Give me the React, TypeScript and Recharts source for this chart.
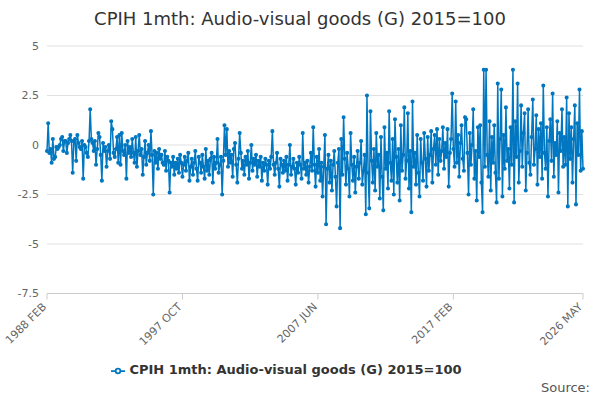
import React from 'react';
import { LineChart, Line, XAxis, YAxis, CartesianGrid, Legend } from 'recharts';

const MONTHS = ['JAN', 'FEB', 'MAR', 'APR', 'MAY', 'JUN', 'JUL', 'AUG', 'SEP', 'OCT', 'NOV', 'DEC'];

// monthly values, 1988 FEB .. 2026 MAY
const values: number[] = [
  -0.3, 1.1, -0.4, -0.2, -0.9, 0.3, -0.7, -0.6, -0.1, -0.2, -0.1,
  0.0, 0.3, 0.4, -0.3, 0.2, 0.2, -0.4, 0.1, 0.3, 0.5, 0.2, -1.4,
  0.2, 0.3, -0.8, 0.5, 0.1, -0.1, -0.2, 0.2, -1.7, 0.0, -0.1, -0.4,
  -0.6, 0.2, 1.8, 0.3, 0.1, -0.3, 0.2, -1.0, -0.2, 0.6, 0.4, -0.5,
  -1.8, 0.1, -0.3, -0.1, -1.1, -0.3, 0.0, -0.7, 1.2, 0.8, -0.4, -0.6,
  -0.2, 0.4, -0.9, 0.5, -1.0, 0.6, -0.3, -0.5, 0.0, -1.7, 0.2, -0.4,
  -0.1, -0.6, 0.3, -0.4, -0.9, 0.4, -1.1, -0.3, 0.5, -0.5, -0.2, -1.5,
  -0.6, 0.2, -1.0, -0.4, 0.0, -0.8, 0.7, -0.5, -2.5, -0.3, -0.9, -0.4,
  -1.2, -0.2, -0.7, -0.5, -0.9, -1.0, -0.3, -1.3, -0.6, -0.8, -2.4, -0.9,
  -1.1, -0.6, -1.5, -0.9, -1.2, -0.7, -1.4, -0.5, -0.9, -1.6, -1.0, -0.6,
  -1.3, -0.8, -0.4, -1.8, -1.1, -0.7, -1.5, -0.9, -0.3, -1.2, -1.8, -0.6,
  -0.9, -1.4, -0.5, -1.1, -1.7, -0.2, -1.3, -0.8, -1.5, -0.7, -0.4, -1.9,
  -0.6, -1.2, -0.9, 0.3, -1.4, -1.0, -0.6, -2.5, -0.8, 1.0, -0.5, 0.8,
  -1.1, -0.3, -0.9, -0.5, -1.6, -0.2, 0.1, -1.0, -1.9, -0.7, 0.6, -0.4,
  -1.2, -0.8, -1.5, -0.6, -1.0, -0.3, -1.7, -0.9, 0.0, -1.3, -0.7, -1.0,
  -0.5, -1.6, -0.8, -1.1, -0.6, -1.8, -0.9, -1.3, -0.7, -1.0, -2.0, -0.8,
  -1.2, -0.6, 0.7, -1.0, -1.5, -0.9, -0.4, -1.2, -2.1, -0.7, -1.0, -1.4,
  -0.8, -1.3, -0.6, -1.8, -1.0, 0.0, -1.5, -1.1, -0.7, -1.2, -2.0, -0.9,
  -1.4, -0.6, -1.0, -1.7, 0.6, -1.2, -0.9, -1.5, -0.8, -1.9, -1.1, -0.4,
  -1.3, 0.9, -1.0, -2.1, -0.6, -1.4, -0.2, -1.8, -0.9, -2.6, -1.1, 0.5,
  -4.0, -1.2, -0.5, -1.9, -0.8, -2.3, -1.0, -0.3, -1.6, -3.1, -0.9, -0.2,
  -4.2, 0.3, -1.5, 1.4, -0.7, -2.0, -0.4, -1.2, -2.6, 0.6, -1.0, -1.8,
  -0.6, -2.4, -1.1, -0.3, -1.7, -0.9, 0.2, -2.0, -1.3, -0.5, -3.5, 2.5,
  -1.4, -3.2, 1.7, -0.8, -1.9, -0.2, -2.3, 0.6, -1.1, -0.5, -2.7, 0.4,
  -1.6, -3.3, 0.9, -1.2, -0.4, -2.2, 1.7, -0.9, -1.8, 0.3, -2.5, 1.3,
  -0.6, -1.9, -0.2, -2.8, 1.0, -1.3, -0.5, 1.9, -1.7, -0.8, 1.6, -2.2,
  -0.3, -3.4, 2.2, -1.1, -0.4, -2.0, 0.5, -1.4, -2.6, 0.3, -0.9, -1.8,
  0.6, -0.7, -2.1, 0.4, -1.3, -0.5, 0.7, -1.9, -0.2, 0.5, -1.0, 0.8,
  -1.5, 0.3, -0.8, -0.3, 0.9, -1.2, 0.1, -0.6, 0.8, -2.1, -0.4, 0.3,
  2.6, -0.2, -1.1, 2.2, -0.9, 0.5, -1.6, 0.1, 1.0, -0.7, -1.3, 1.4,
  1.3, -0.4, -2.5, 0.6, -1.0, 0.0, 1.8, -1.7, -0.3, -2.8, 0.9, -0.6,
  1.0, -1.9, -3.4, 3.8, -1.1, 3.8, -0.5, -1.6, 1.2, -2.3, 0.4, -0.9,
  1.0, -1.4, -2.9, 3.1, -1.7, 0.3, 2.8, -2.6, 0.5, -1.2, 1.9, -0.8,
  -0.2, -2.2, 0.9, -1.0, 3.8, -2.9, 1.2, -0.6, 3.1, -1.9, -0.3, 2.0,
  -1.1, 0.6, 1.6, -2.3, -0.4, 1.8, -0.9, -1.5, 0.4, 2.3, -1.0, -0.2,
  1.5, -2.0, 0.8, -0.6, 1.1, -1.7, 3.0, -0.4, -1.2, 0.9, -2.6, 0.2,
  1.3, -0.8, 2.6, -1.6, 0.1, -0.5, 1.2, -2.4, 0.6, -0.3, 1.8, -1.1,
  0.4, -1.0, 2.4, -3.1, 1.6, -0.7, 0.9, -1.9, 0.3, 2.0, -3.0, 1.1,
  -0.5, 2.8, -1.3, 0.7, -1.2,
];

const xTicks = ['1988 FEB', '1997 OCT', '2007 JUN', '2017 FEB', '2026 MAY'];
const yTicks = [-7.5, -5, -2.5, 0, 2.5, 5];
const SERIES = 'CPIH 1mth: Audio-visual goods (G) 2015=100';

const data = values.map((v, i) => {
  const m = i + 1; // index 0 = FEB 1988
  const year = 1988 + Math.floor(m / 12);
  return { month: `${year} ${MONTHS[m % 12]}`, value: v };
});

const RotTick = (props: any) => {
  const { x, y, payload } = props;
  return (
    <text x={x} y={y + 6} textAnchor="end" fontSize={11} fill="#666"
      transform={`rotate(-45 ${x} ${y + 6})`}>
      {payload.value}
    </text>
  );
};

export default function App() {
  return (
    <div style={{ position: 'absolute', left: 0, top: 0, width: 600, height: 400, fontFamily: 'DejaVu Sans, sans-serif', background: '#fff' }}>
      <div style={{ position: 'absolute', top: 8, width: 600, textAlign: 'center', fontSize: 18, color: '#333' }}>
        CPIH 1mth: Audio-visual goods (G) 2015=100
      </div>
      <LineChart width={600} height={400} data={data} margin={{ top: 46, right: 17, left: 0, bottom: 48 }}>
        <CartesianGrid vertical={false} stroke="#e0e0e0" />
        <XAxis dataKey="month" ticks={xTicks} interval={0} tick={<RotTick />} height={43}
          stroke="#ccc" tickLine={{ stroke: '#ccc' }} />
        <YAxis domain={[-7.5, 5]} ticks={yTicks} width={47} axisLine={false} tickLine={false}
          tick={{ fontSize: 11, fill: '#666' }} />
        <Legend verticalAlign="bottom" wrapperStyle={{ top: 362, fontSize: 13, fontWeight: 'bold', color: '#333' }}
          formatter={() => <span style={{ color: '#333' }}>{SERIES}</span>} />
        <Line dataKey="value" name={SERIES} stroke="#0077c0" strokeWidth={1.5}
          dot={{ r: 1.3, fill: '#0077c0', stroke: '#0077c0' }} isAnimationActive={false} />
      </LineChart>
      <div style={{ position: 'absolute', right: 10, top: 380, fontSize: 13, color: '#555' }}>Source:</div>
    </div>
  );
}
